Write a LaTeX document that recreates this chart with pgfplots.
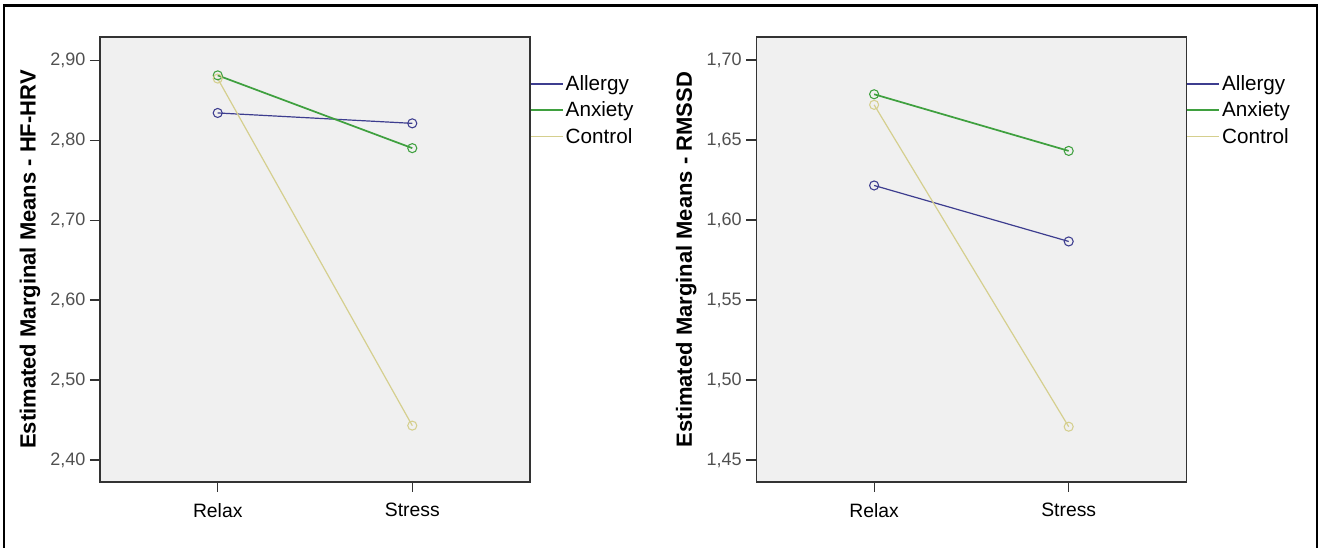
\documentclass[border=0pt]{standalone}
\usepackage{pgfplots}
\pgfplotsset{compat=1.18}
\usepackage{fontspec}
\setmainfont{Liberation Sans}
\definecolor{cAll}{HTML}{3D3D8F}
\definecolor{cAnx}{HTML}{3FA03F}
\definecolor{cCon}{HTML}{D5CF8E}
\definecolor{bgplot}{HTML}{F0F0F0}
\definecolor{ticklab}{HTML}{505050}
\pgfplotsset{
  spssaxis/.style={
    scale only axis,
    width=322.5pt, height=333.75pt,
    axis background/.style={fill=bgplot},
    axis line style={draw=black!80, line width=1.1pt},
    xmin=-0.605, xmax=1.605,
    xtick={0,1}, xticklabels={Relax,Stress},
    tick align=outside, xtick pos=bottom, ytick pos=left,
    major tick length=7.5pt,
    every tick/.style={black!80, line width=0.9pt},
    yticklabel style={font=\fontsize{13.5}{16}\selectfont, text=ticklab,
      /pgf/number format/.cd, fixed, fixed zerofill, precision=2, use comma, assume math mode=true},
    xticklabel style={font=\fontsize{14.5}{17}\selectfont, text=black, yshift=-5pt},
    every axis y label/.style={at={(axis description cs:-0.163,0.5)}, rotate=90, anchor=center,
      font=\bfseries\fontsize{16.5}{19}\selectfont},
    legend style={draw=none, fill=none, at={(axis description cs:1,0.918)}, anchor=north west,
      inner sep=0pt, outer sep=0pt, font=\fontsize{15.5}{18}\selectfont,
      nodes={inner sep=1.5pt}, row sep=4pt},
    legend cell align=left,
    legend image code/.code={\draw[#1] (0pt,0pt) -- (24pt,0pt);},
    clip=false,
  },
  sAll/.style={color=cAll, line width=0.9pt, mark=o, mark size=3.4pt, mark options={line width=0.8pt}},
  sAnx/.style={color=cAnx, line width=1.3pt, mark=o, mark size=3.4pt, mark options={line width=0.8pt}},
  sCon/.style={color=cCon, line width=0.9pt, mark=o, mark size=3.4pt, mark options={line width=0.8pt}},
}
\begin{document}
\begin{tikzpicture}
\useasboundingbox (0,0) rectangle (990pt,411pt);
\draw[line width=2.2pt, black] (3pt,0pt) -- (3pt,407pt) -- (987.75pt,407pt) -- (987.75pt,0pt);
\begin{axis}[spssaxis, at={(75pt,49.5pt)}, anchor=south west,
  ymin=2.3725, ymax=2.929, ytick={2.40,2.50,2.60,2.70,2.80,2.90},
  ylabel={Estimated Marginal Means - HF-HRV}]
\addplot[sAll] coordinates {(0,2.834) (1,2.821)};
\addplot[sAnx] coordinates {(0,2.881) (1,2.790)};
\addplot[sCon] coordinates {(0,2.877) (1,2.443)};
\legend{Allergy,Anxiety,Control}
\end{axis}
\begin{axis}[spssaxis, at={(567.3pt,49.5pt)}, anchor=south west,
  ymin=1.43625, ymax=1.7144, ytick={1.45,1.50,1.55,1.60,1.65,1.70},
  ylabel={Estimated Marginal Means - RMSSD}]
\addplot[sAll] coordinates {(0,1.6216) (1,1.5866)};
\addplot[sAnx] coordinates {(0,1.6786) (1,1.6432)};
\addplot[sCon] coordinates {(0,1.672) (1,1.4708)};
\legend{Allergy,Anxiety,Control}
\end{axis}
\end{tikzpicture}
\end{document}
